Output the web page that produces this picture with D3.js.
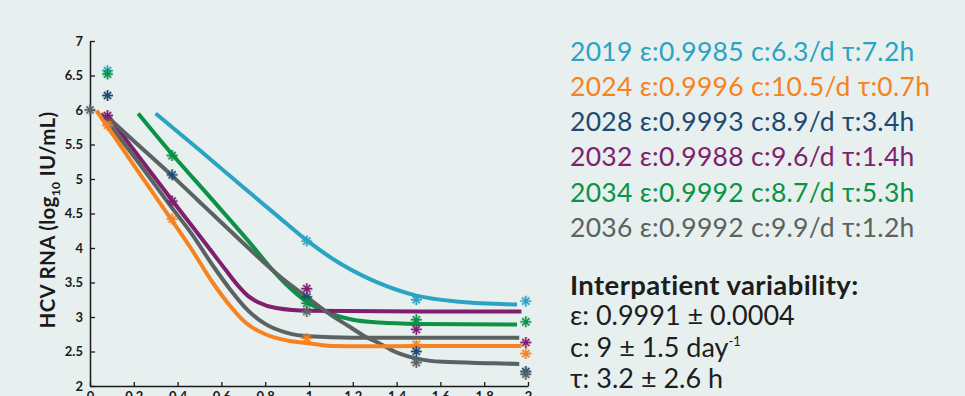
<!DOCTYPE html>
<html>
<head>
<meta charset="utf-8">
<script src="https://cdn.jsdelivr.net/npm/d3@7"></script>
<style>
  html, body { margin: 0; padding: 0; background: #e7f0ef; overflow: hidden; }
  svg { display: block; }
</style>
</head>
<body>
<svg id="chart" width="965" height="396"></svg>
<script>
// Patient identifiers and fitted parameters
const patients = ["2019", "2024", "2028", "2032", "2034", "2036"];
const epsilon  = ["0.9985", "0.9996", "0.9993", "0.9988", "0.9992", "0.9992"];
const clearance = ["6.3", "10.5", "8.9", "9.6", "8.7", "9.9"];
const delay    = ["7.2", "0.7", "3.4", "1.4", "5.3", "1.2"];
const colors   = ["#2ba3c3", "#f7821f", "#1e4a72", "#7f1f6e", "#0b9246", "#5b6362"];
const lineColors = ["#2ba3c3", "#f7821f", "#5b6362", "#7f1f6e", "#0b9246", "#5b6362"];

// Measured viral load (days, log10 IU/mL)
const obs2019 = [[0.08, 6.57], [0.99, 4.10], [1.49, 3.25], [1.99, 3.23]];
const obs2024 = [[0.08, 5.78], [0.375, 4.42], [0.99, 2.69], [1.49, 2.60], [1.99, 2.47]];
const obs2028 = [[0.08, 6.21], [0.375, 5.06], [0.99, 3.29], [1.49, 2.50], [1.99, 2.21]];
const obs2032 = [[0.08, 5.92], [0.375, 4.68], [0.99, 3.41], [1.49, 2.82], [1.99, 2.63]];
const obs2034 = [[0.08, 6.52], [0.375, 5.34], [0.99, 3.20], [1.49, 2.96], [1.99, 2.93]];
const obs2036 = [[0.0, 6.00], [0.99, 3.08], [1.49, 2.34], [1.99, 2.17]];

// Model fits (days, log10 IU/mL)
const fit2019 = [[0.30, 5.95], [0.50, 5.42], [0.70, 4.88], [0.85, 4.48], [0.99, 4.11], [1.15, 3.76],
                 [1.32, 3.49], [1.49, 3.31], [1.69, 3.22], [1.95, 3.18]];
const fit2024 = [[0.03, 5.99], [0.20, 5.20], [0.37, 4.42], [0.46, 4.00], [0.56, 3.50], [0.64, 3.16],
                 [0.71, 2.92], [0.80, 2.75], [0.90, 2.66], [1.00, 2.62], [1.10, 2.58], [1.25, 2.575],
                 [1.50, 2.58], [1.97, 2.58]];
const fit2028 = [[0.07, 5.93], [0.20, 5.55], [0.37, 5.06], [0.49, 4.70], [0.60, 4.37], [0.72, 4.01],
                 [0.87, 3.58], [0.99, 3.29], [1.10, 3.03], [1.18, 2.87], [1.26, 2.71], [1.32, 2.62],
                 [1.39, 2.50], [1.49, 2.40], [1.61, 2.35], [1.84, 2.33], [1.96, 2.32]];
const fit2032 = [[0.08, 5.93], [0.20, 5.42], [0.38, 4.67], [0.56, 3.93], [0.62, 3.68], [0.68, 3.44],
                 [0.72, 3.31], [0.77, 3.21], [0.85, 3.13], [1.00, 3.09], [1.50, 3.08], [1.97, 3.08]];
const fit2034 = [[0.22, 5.95], [0.38, 5.34], [0.55, 4.73], [0.75, 4.00], [0.82, 3.73], [0.90, 3.46],
                 [0.99, 3.22], [1.10, 3.05], [1.20, 2.96], [1.32, 2.92], [1.50, 2.90], [1.95, 2.89]];
const fit2036 = [[0.05, 5.95], [0.20, 5.33], [0.37, 4.60], [0.47, 4.18], [0.56, 3.75], [0.64, 3.40],
                 [0.72, 3.10], [0.80, 2.90], [0.90, 2.77], [1.00, 2.72], [1.20, 2.70], [1.50, 2.70],
                 [1.96, 2.70]];

const observed = [obs2019, obs2024, obs2028, obs2032, obs2034, obs2036];
const fits     = [fit2019, fit2024, fit2028, fit2032, fit2034, fit2036];
const fitOrder = [0, 4, 3, 2, 5, 1];

const xTicks = [0, 0.2, 0.4, 0.6, 0.8, 1, 1.2, 1.4, 1.6, 1.8, 2];
const yTicks = [2, 2.5, 3, 3.5, 4, 4.5, 5, 5.5, 6, 6.5, 7];

const summaryLines = [
  { sym: "ε", text: ": 0.9991 ± 0.0004" },
  { sym: "c", text: ": 9 ± 1.5 day", sup: "-1" },
  { sym: "τ", text: ": 3.2 ± 2.6 h" }
];

const svg = d3.select("#chart");
svg.append("rect").attr("width", 965).attr("height", 396).attr("fill", "#e7f0ef");

const x = d3.scaleLinear().domain([0, 2]).range([90, 528]);
const y = d3.scaleLinear().domain([2, 7]).range([386, 41]);

// Axes with inward ticks
const yAxis = d3.axisLeft(y).tickValues(yTicks).tickSize(-5).tickSizeOuter(0)
  .tickPadding(7).tickFormat(d => String(d));
const xAxis = d3.axisBottom(x).tickValues(xTicks).tickSize(-4).tickSizeOuter(0)
  .tickPadding(6).tickFormat(d => String(d));

function styleAxis(g) {
  g.select(".domain").attr("stroke", "#1a1a1a").attr("stroke-width", 1.5);
  g.selectAll(".tick line").attr("stroke", "#1a1a1a").attr("stroke-width", 1.3);
  g.selectAll(".tick text").attr("fill", "#1a1a1a")
    .style("font-family", "Lato, 'Open Sans', sans-serif")
    .style("font-weight", "700").style("font-size", "13px");
}

svg.append("g").attr("transform", "translate(90,0)").call(yAxis).call(styleAxis);
svg.append("g").attr("transform", "translate(0,386)").call(xAxis).call(styleAxis);

// Y axis title
const yTitle = svg.append("text")
  .attr("transform", "translate(55,220) rotate(-90)")
  .attr("text-anchor", "middle")
  .style("font-family", "Lato, 'Open Sans', sans-serif")
  .style("font-weight", "700").style("font-size", "20.5px")
  .style("letter-spacing", "0.3px").attr("fill", "#1a1a1a");
yTitle.append("tspan").text("HCV RNA (log");
yTitle.append("tspan").text("10").style("font-size", "12px").attr("dy", 5);
yTitle.append("tspan").text(" IU/mL)").attr("dy", -5);

// Fitted curves
const line = d3.line().x(d => x(d[0])).y(d => y(d[1])).curve(d3.curveMonotoneX);
svg.append("g").selectAll("path").data(fitOrder).join("path")
  .attr("d", i => line(fits[i]))
  .attr("fill", "none")
  .attr("stroke", i => lineColors[i])
  .attr("stroke-width", 4);

// Star markers for measurements
const starPath = "M-5.5,0H5.5M0,-5.5V5.5M-3.6,-3.6L3.6,3.6M-3.6,3.6L3.6,-3.6";
const markers = svg.append("g");
observed.forEach((pts, i) => {
  const g = markers.append("g").selectAll("g").data(pts).join("g")
    .attr("transform", d => `translate(${x(d[0])},${y(d[1])})`);
  g.append("path").attr("d", starPath).attr("stroke", colors[i])
    .attr("stroke-width", 3.2).attr("stroke-opacity", 0.25).attr("fill", "none");
  g.append("path").attr("d", starPath).attr("stroke", colors[i])
    .attr("stroke-width", 1.4).attr("fill", "none");
  g.append("rect").attr("x", -1.8).attr("y", -1.8).attr("width", 3.6).attr("height", 3.6)
    .attr("fill", colors[i]);
});

// Legend with parameters per patient
const legend = svg.append("g").style("font-family", "Lato, 'Open Sans', sans-serif")
  .style("font-size", "26.5px").style("letter-spacing", "0.3px");
legend.selectAll("text").data(patients).join("text")
  .attr("x", 570)
  .attr("y", (d, i) => 60.7 + 35.2 * i)
  .attr("fill", (d, i) => colors[i])
  .text((d, i) => `${d} ε:${epsilon[i]} c:${clearance[i]}/d τ:${delay[i]}h`);

// Interpatient variability summary
const summary = svg.append("g").style("font-family", "Lato, 'Open Sans', sans-serif")
  .attr("fill", "#1d1d1d");
summary.append("text").attr("x", 570).attr("y", 295)
  .style("font-size", "27.5px").style("font-weight", "700").style("letter-spacing", "0.4px")
  .text("Interpatient variability:");
summaryLines.forEach((s, i) => {
  const t = summary.append("text").attr("x", 570).attr("y", 325 + 31.5 * i)
    .style("font-size", "27px");
  t.append("tspan").text(s.sym);
  t.append("tspan").text(s.text);
  if (s.sup) t.append("tspan").text(s.sup).style("font-size", "13px").attr("dy", -11);
});
</script>
</body>
</html>
